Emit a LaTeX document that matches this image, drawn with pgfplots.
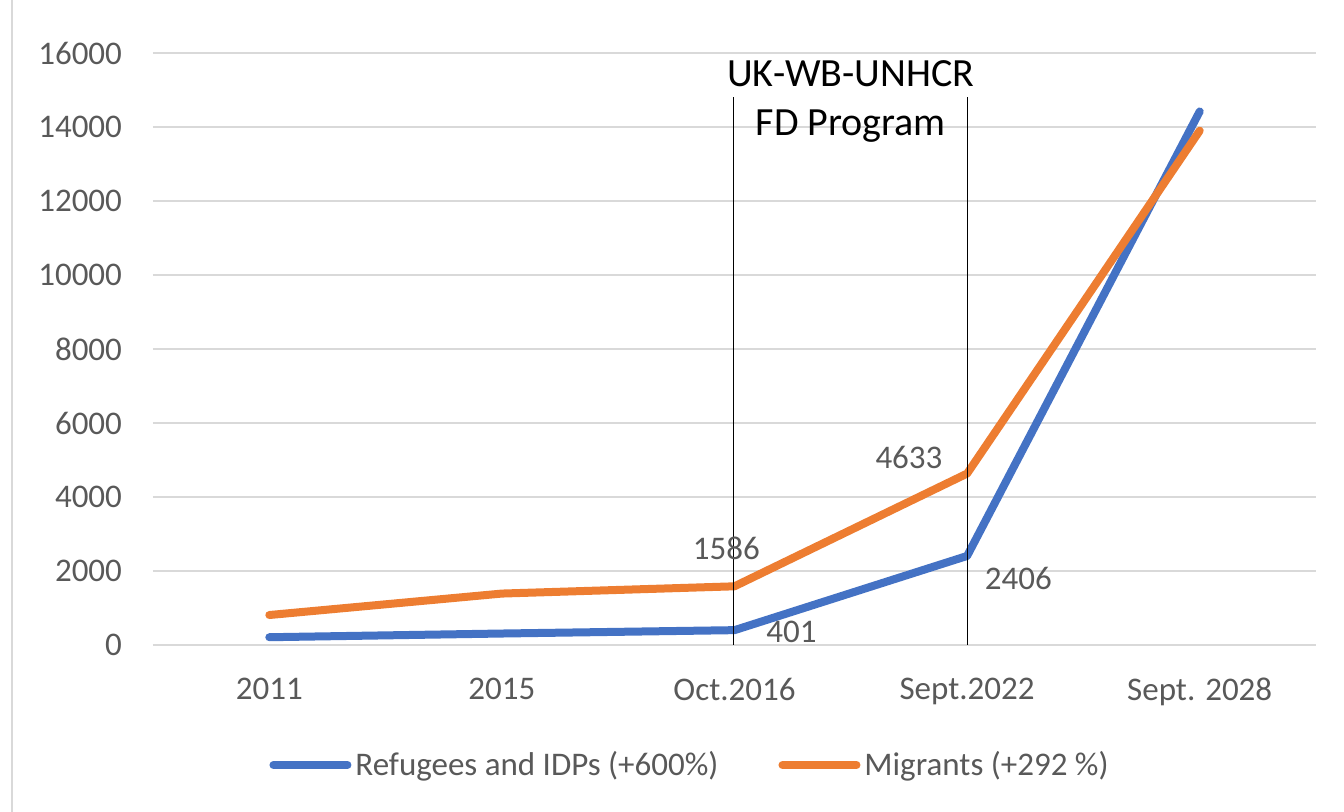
\documentclass[border=0pt]{standalone}
\usepackage{pgfplots}
\pgfplotsset{compat=1.18}
\usepackage{fontspec}
\setmainfont{Carlito}
\definecolor{cblue}{RGB}{68,114,196}
\definecolor{corange}{RGB}{237,125,49}
\definecolor{cgrid}{RGB}{217,217,217}
\definecolor{ctext}{RGB}{89,89,89}
\begin{document}
\begin{tikzpicture}[x=1pt,y=1pt]
\useasboundingbox (-76.5,-83.5) rectangle (595.5,322.5);
\draw[cgrid, line width=1.2pt] (-70.5,-83.5) -- (-70.5,322.5);
\begin{axis}[
  at={(0,0)}, anchor=south west,
  scale only axis, width=581.5pt, height=296pt,
  xmin=-0.5, xmax=4.5, ymin=0, ymax=16000,
  xtick={0,1,2,3,4},
  xticklabels={2011,2015,Oct.2016,Sept.2022,Sept. 2028},
  ytick={0,2000,...,16000},
  /pgf/number format/assume math mode=true,
  /pgf/number format/fixed,
  /pgf/number format/1000 sep={},
  scaled y ticks=false,
  ymajorgrids, grid style={cgrid, line width=1.1pt},
  axis line style={draw=none},
  tick style={draw=none},
  tick label style={font=\fontsize{16.5}{19}\selectfont, text=ctext},
  yticklabel style={xshift=-12pt},
  xticklabel style={yshift=-13pt},
  clip=false,
  legend style={at={(0.4626,-0.2027)}, anchor=center, draw=none,
    legend columns=2, font=\fontsize{16.5}{19}\selectfont, text=ctext,
    /tikz/every even column/.append style={column sep=28pt}},
  legend image code/.code={\draw[line width=4pt, line cap=round] (0pt,0pt) -- (37pt,0pt);},
]
\draw[cgrid, line width=1.1pt] (axis cs:-0.5,0) -- (axis cs:4.5,0);
\addplot[cblue, line width=4pt, line join=round, line cap=round] coordinates {(0,210) (1,310) (2,401) (3,2406) (4,14420)};
\addlegendentry{Refugees and IDPs (+600\%)}
\addplot[corange, line width=4pt, line join=round, line cap=round] coordinates {(0,810) (1,1390) (2,1586) (3,4633) (4,13900)};
\addlegendentry{Migrants (+292 \%)}
\draw[black, line width=0.5pt] (axis cs:1.995,0) -- (axis cs:1.995,14800);
\draw[black, line width=0.5pt] (axis cs:3,0) -- (axis cs:3,14800);
\node[align=center, font=\fontsize{20}{24.5}\selectfont, text=black] at (axis cs:2.5,14700) {UK-WB-UNHCR\\FD Program};
\node[font=\fontsize{16.5}{19}\selectfont, text=ctext] at (axis cs:1.965,2620) {1586};
\node[font=\fontsize{16.5}{19}\selectfont, text=ctext] at (axis cs:2.245,350) {401};
\node[font=\fontsize{16.5}{19}\selectfont, text=ctext] at (axis cs:2.75,5080) {4633};
\node[font=\fontsize{16.5}{19}\selectfont, text=ctext] at (axis cs:3.22,1810) {2406};
\end{axis}
\end{tikzpicture}
\end{document}
